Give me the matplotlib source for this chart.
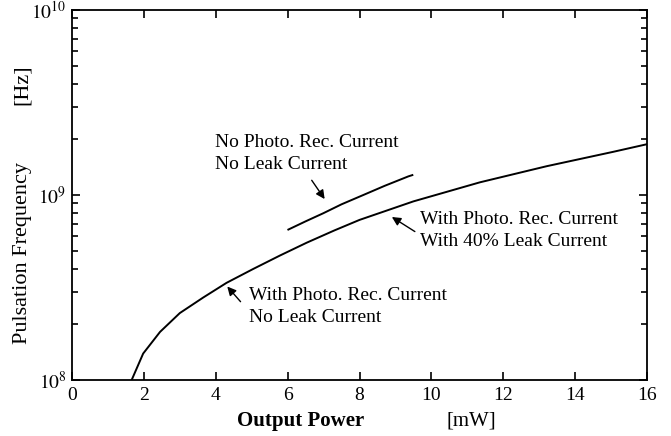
import numpy as np
import matplotlib
matplotlib.use("Agg")
import matplotlib.pyplot as plt
from matplotlib.ticker import LogLocator, NullFormatter, FixedLocator

plt.rcParams['font.family'] = ['Liberation Serif', 'DejaVu Serif']
plt.rcParams['mathtext.fontset'] = 'stix'

# lower curve: with photo. rec. current
x_with = [1.66, 1.98, 2.45, 3.0, 3.65, 4.3, 5.04, 5.79, 6.53, 7.3, 8.0, 9.5, 11.35, 13.21, 15.06, 16.0]
f_with = [1.0e8, 1.39e8, 1.82e8, 2.30e8, 2.79e8, 3.35e8, 3.98e8, 4.71e8, 5.52e8, 6.43e8,
          7.33e8, 9.23e8, 1.17e9, 1.43e9, 1.71e9, 1.88e9]

# upper short curve: no photo. rec. current, no leak current
x_none = [6.02, 6.5, 6.99, 7.5, 8.11, 8.7, 9.36, 9.47]
f_none = [6.5e8, 7.2e8, 7.96e8, 8.9e8, 1.0e9, 1.12e9, 1.26e9, 1.28e9]

xticks = [0, 2, 4, 6, 8, 10, 12, 14, 16]

fig = plt.figure(figsize=(6.71, 4.36), dpi=100)
ax = fig.add_axes([0.1073, 0.1284, 0.857, 0.849])

ax.plot(x_with, f_with, color='black', lw=1.4)
ax.plot(x_none, f_none, color='black', lw=1.4)

ax.set_yscale('log')
ax.set_xlim(0, 16)
ax.set_ylim(1e8, 1e10)

ax.xaxis.set_major_locator(FixedLocator(xticks))
ax.set_xticklabels([str(t) for t in xticks])
ax.yaxis.set_major_locator(FixedLocator([1e8, 1e9, 1e10]))
ax.set_yticklabels(['$10^{8}$', '$10^{9}$', '$10^{10}$'])
ax.yaxis.set_minor_locator(LogLocator(base=10, subs=np.arange(2, 10)))
ax.yaxis.set_minor_formatter(NullFormatter())

ax.tick_params(which='both', direction='in', top=True, right=True, labelsize=14, width=1.2)
ax.tick_params(which='major', length=6)
ax.tick_params(which='minor', length=4)
ax.tick_params(axis='x', pad=5)
ax.tick_params(axis='y', pad=4)
for s in ax.spines.values():
    s.set_linewidth(1.3)

fig.text(0.353, 0.035, 'Output Power', fontsize=15, fontweight='bold', ha='left', va='center')
fig.text(0.666, 0.035, '[mW]', fontsize=15, ha='left', va='center')
fig.text(0.033, 0.42, 'Pulsation Frequency', fontsize=16, rotation=90, ha='center', va='center')
fig.text(0.033, 0.805, '[Hz]', fontsize=16, rotation=90, ha='center', va='center')

arrow = dict(arrowstyle='-|>', color='black', lw=1.0, mutation_scale=13, shrinkA=0, shrinkB=0)

ax.text(3.98, 1.67e9, 'No Photo. Rec. Current\nNo Leak Current', fontsize=14,
        linespacing=1.42, ha='left', va='center')
ax.annotate('', xy=(7.03, 9.5e8), xytext=(6.67, 1.2e9), arrowprops=arrow)

ax.text(9.68, 6.43e8, 'With Photo. Rec. Current\nWith 40% Leak Current', fontsize=14,
        linespacing=1.35, ha='left', va='center')
ax.annotate('', xy=(8.9, 7.6e8), xytext=(9.54, 6.34e8), arrowprops=arrow)

ax.text(4.92, 2.50e8, 'With Photo. Rec. Current\nNo Leak Current', fontsize=14,
        linespacing=1.38, ha='left', va='center')
ax.annotate('', xy=(4.32, 3.2e8), xytext=(4.69, 2.65e8), arrowprops=arrow)

fig.savefig('out.png', dpi=100)
